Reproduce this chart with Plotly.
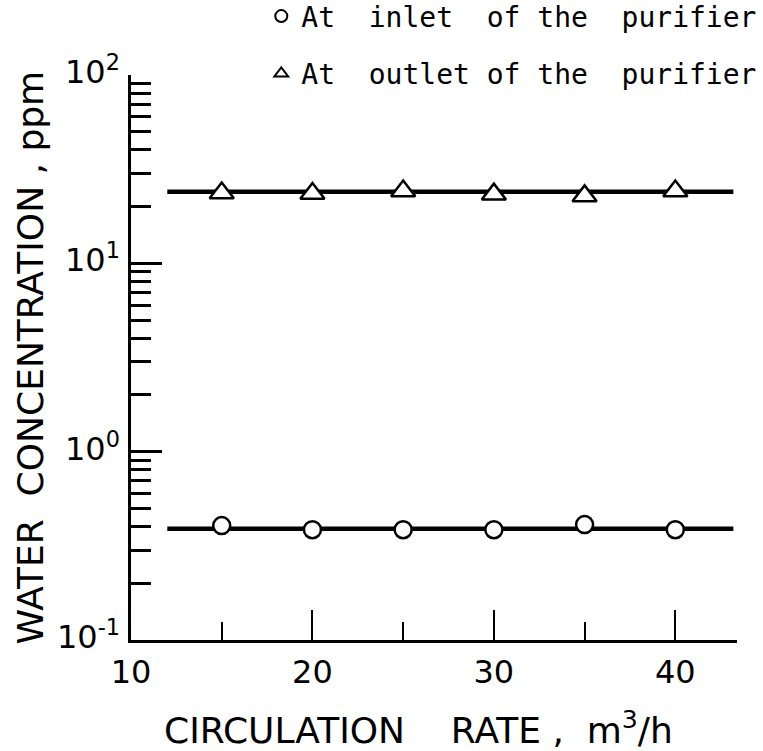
import math
import plotly.graph_objects as go

# Circulation rate (m3/h) at which water concentration was sampled
rate = [15, 20, 25, 30, 35, 40]

# Water concentration (ppm) measured at the purifier inlet and outlet
inlet_ppm = [0.405, 0.385, 0.385, 0.385, 0.41, 0.385]
outlet_ppm = [23.6, 23.5, 24.2, 23.3, 22.8, 24.2]

# Mean levels drawn as horizontal guide lines across the rate range
fit_rate = [12.0, 43.2]
inlet_fit = [0.39, 0.39]
outlet_fit = [24.0, 24.0]

# Axis ticks
x_major = [10, 20, 30, 40]
x_minor = [15, 25, 35]
y_major = [0.1, 1, 10, 100]
y_major_text = ["10<sup>-1</sup>", "10<sup>0</sup>", "10<sup>1</sup>", "10<sup>2</sup>"]
y_minor = [m * d for d in (0.1, 1, 10) for m in range(2, 10)]

NB = "\u00a0"
FONT = "DejaVu Sans"
TICK_FONT = dict(family=FONT, size=32, color="black")
TITLE_FONT = dict(family=FONT, size=36, color="black")

fig = go.Figure()

fig.add_trace(go.Scatter(
    x=fit_rate, y=inlet_fit, mode="lines",
    line=dict(color="black", width=4.5),
    showlegend=False, hoverinfo="skip",
))
fig.add_trace(go.Scatter(
    x=fit_rate, y=outlet_fit, mode="lines",
    line=dict(color="black", width=4.5),
    showlegend=False, hoverinfo="skip",
))
fig.add_trace(go.Scatter(
    x=rate, y=inlet_ppm, mode="markers",
    name="At" + NB * 2 + "inlet" + NB * 2 + "of" + NB + "the" + NB * 2 + "purifier",
    legendgroup="inlet",
    marker=dict(symbol="circle", size=17, color="white",
                line=dict(color="black", width=2.5)),
))
fig.add_trace(go.Scatter(
    x=rate, y=outlet_ppm, mode="markers",
    name="At" + NB * 2 + "outlet" + NB + "of" + NB + "the" + NB * 2 + "purifier",
    legendgroup="outlet",
    marker=dict(symbol="triangle-up", size=21, color="white",
                line=dict(color="black", width=2.5)),
))

# Decade labels on the log axis, with the exponent as a superscript
annotations = [
    dict(text=t, x=0, xref="paper", y=math.log10(v), yref="y",
         xanchor="right", yanchor="middle", xshift=-9, yshift=5,
         showarrow=False, font=TICK_FONT)
    for v, t in zip(y_major, y_major_text)
]
# Axis titles
annotations.append(dict(
    text="WATER" + NB * 2 + "CONCENTRATION" + NB + "," + NB + "ppm",
    x=0, xref="paper", y=0.5, yref="paper", xanchor="center", yanchor="middle",
    xshift=-101, textangle=-90, showarrow=False, font=TITLE_FONT,
))
annotations.append(dict(
    text="CIRCULATION" + NB * 4 + "RATE" + NB + "," + NB * 2 + "m<sup>3</sup>/h",
    x=0.5, xref="paper", y=0, yref="paper", xanchor="center", yanchor="middle",
    xshift=-16, yshift=-88, showarrow=False, font=TITLE_FONT,
))

fig.update_layout(
    width=763, height=751,
    margin=dict(l=131, r=26, t=75, b=111, pad=0, autoexpand=False),
    paper_bgcolor="white", plot_bgcolor="white",
    font=dict(family=FONT, color="black", size=32),
    showlegend=True,
    legend=dict(
        x=0.215, y=1.148, xanchor="left", yanchor="top",
        font=dict(family="DejaVu Sans Mono", size=28, color="black"),
        bgcolor="rgba(0,0,0,0)", borderwidth=0,
        itemsizing="constant", traceorder="grouped", tracegroupgap=18,
    ),
    annotations=annotations,
    xaxis=dict(
        range=[10, 43.4], showline=True, linecolor="black", linewidth=3,
        mirror=False, showgrid=False, zeroline=False,
        ticks="inside", tickvals=x_major, ticktext=[str(v) for v in x_major],
        ticklen=30, tickwidth=1.5, tickcolor="black",
        tickfont=TICK_FONT, ticklabelstandoff=2,
        minor=dict(tickvals=x_minor, ticks="inside", ticklen=18,
                   tickwidth=1.5, tickcolor="black", showgrid=False),
    ),
    yaxis=dict(
        type="log", range=[-1, 2], showline=True, linecolor="black", linewidth=3,
        mirror=False, showgrid=False, zeroline=False,
        ticks="inside", tickvals=y_major, showticklabels=False,
        ticklen=31, tickwidth=2.5, tickcolor="black",
        minor=dict(tickvals=y_minor, ticks="inside", ticklen=20,
                   tickwidth=2.5, tickcolor="black", showgrid=False),
    ),
)

fig.write_html("out.html")
